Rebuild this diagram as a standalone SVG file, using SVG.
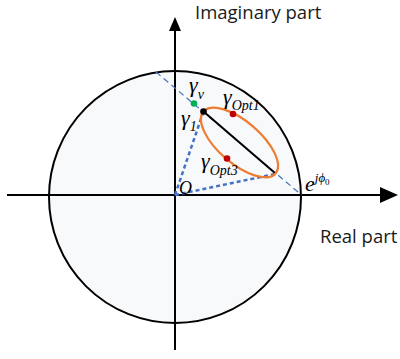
<svg xmlns="http://www.w3.org/2000/svg" width="400" height="359" viewBox="0 0 400 359">
<style>
.axis{stroke:#000;stroke-width:2;fill:none}
.lbl{font-family:"Open Sans","Liberation Sans",sans-serif;font-size:18.5px;fill:#1a1a1a}
.math{font-family:"Liberation Serif","DejaVu Serif",serif;font-style:italic;fill:#000}
.thin{stroke:#4472C4;stroke-width:1.2;stroke-dasharray:6 4;fill:none}
.dot{stroke:#4472C4;stroke-width:2.5;stroke-dasharray:4 3;fill:none}
</style>
<rect width="400" height="359" fill="#fff"/>
<g id="circle">
<circle cx="175" cy="197" r="126" fill="#f8f9fb" stroke="#000" stroke-width="2"/>
</g>
<g id="axes">
<line class="axis" x1="7" y1="195" x2="380" y2="195"/>
<path d="M380,187 L398,195 L380,203 z" fill="#000"/>
<line class="axis" x1="175" y1="350" x2="175" y2="30"/>
<path d="M169,31 L175,17 L181,31 z" fill="#000"/>
</g>
<g id="connectors">
<line class="thin" x1="156" y1="72" x2="301.5" y2="195"/>
<line class="dot" x1="175" y1="195" x2="203.5" y2="111.5"/>
<line class="dot" x1="175" y1="195" x2="275" y2="174"/>
<line x1="203.5" y1="111.5" x2="275.5" y2="173.5" stroke="#000" stroke-width="2"/>
</g>
<g id="ellipse">
<ellipse cx="239.5" cy="142.5" rx="47.5" ry="21" transform="rotate(40.7 239.5 142.5)" fill="none" stroke="#ED7D31" stroke-width="2.2"/>
</g>
<g id="points">
<circle cx="194" cy="103.5" r="3.3" fill="#00B050"/>
<circle cx="203.5" cy="111.5" r="3.3" fill="#000"/>
<circle cx="233" cy="114" r="3.3" fill="#C00000"/>
<circle cx="227" cy="158.5" r="3.3" fill="#C00000"/>
</g>
<g id="labels">
<text class="lbl" x="195" y="19">Imaginary part</text>
<text class="lbl" x="320" y="243">Real part</text>
<text class="math" x="189" y="92" font-size="22">γ<tspan font-size="14" dy="7">v</tspan></text>
<text class="math" x="223" y="104" font-size="22">γ<tspan font-size="14" dy="6">Opt1</tspan></text>
<text class="math" x="181" y="125" font-size="22">γ<tspan font-size="14" dy="6">1</tspan></text>
<text class="math" x="201" y="168" font-size="22">γ<tspan font-size="14" dy="7">Opt3</tspan></text>
<text class="math" x="179" y="194" font-size="18">O</text>
<text class="math" x="305" y="191" font-size="22">e<tspan font-size="13" dy="-9">jϕ</tspan><tspan font-size="9" dy="3" font-style="normal">0</tspan></text>
</g>
</svg>
